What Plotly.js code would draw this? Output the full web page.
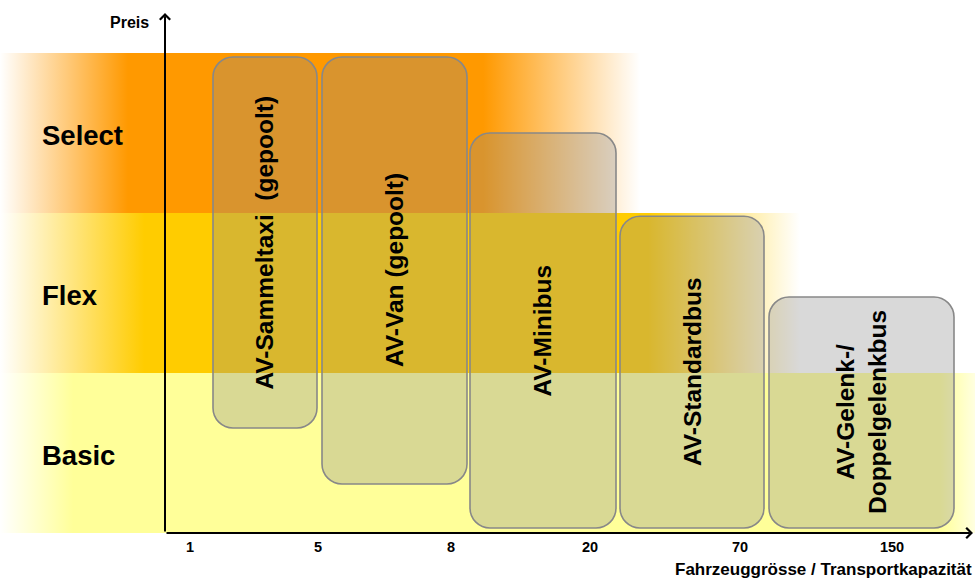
<!DOCTYPE html>
<html>
<head>
<meta charset="utf-8">
<script src="https://cdn.plot.ly/plotly-3.0.1.min.js"></script>
<style>html,body{margin:0;padding:0;background:#fff;}#chart{width:975px;height:579px;}</style>
</head>
<body>
<div id="chart"></div>
<script>
// ---- Data ----
const bandNames = ['Select', 'Flex', 'Basic'];
const bandLow = [2, 1, 0];
const bandHigh = [3, 2, 1];
const bandEnd = [4.75, 6.35, 8.1];

const vehicles = ['AV-Sammeltaxi\u00a0 (gepoolt)', 'AV-Van (gepoolt)', 'AV-Minibus', 'AV-Standardbus', 'AV-Gelenk-/<br>Doppelgelenkbus'];
const vehX0 = [0.48, 1.57, 3.05, 4.55, 6.04];
const vehX1 = [1.52, 3.02, 4.51, 5.99, 7.89];
const vehLow = [0.656, 0.306, 0.031, 0.031, 0.031];
const vehHigh = [2.975, 2.975, 2.5, 1.98, 1.475];

const capLabels = ['1', '5', '8', '20', '70', '150'];
const capPos = [0.25, 1.53, 2.86, 4.25, 5.75, 7.27];

const xTitle = 'Fahrzeuggrösse / Transportkapazität';
const yTitle = 'Preis';

// ---- Styles ----
const X_MIN = -1.65, X_MAX = 8.1, Y_MAX = 533 / 160;
const bandScales = [
  [[0, 'rgba(255,153,0,0)'], [0.2, 'rgba(255,153,0,1)'], [0.755, 'rgba(255,153,0,1)'], [1, 'rgba(255,153,0,0)']],
  [[0, 'rgba(255,204,0,0)'], [0.18, 'rgba(255,204,0,1)'], [0.81, 'rgba(255,204,0,1)'], [1, 'rgba(255,204,0,0)']],
  [[0, 'rgba(255,255,153,0)'], [0.075, 'rgba(255,255,153,1)'], [0.965, 'rgba(255,255,153,1)'], [1, 'rgba(255,255,153,0.3)']]
];
const FONT = 'Liberation Sans, Arial, sans-serif';

const traces = bandNames.map((n, i) => ({
  type: 'scatter', mode: 'none', fill: 'toself',
  x: [X_MIN, bandEnd[i], bandEnd[i], X_MIN, X_MIN],
  y: [bandLow[i], bandLow[i], bandHigh[i], bandHigh[i], bandLow[i]],
  fillgradient: { type: 'horizontal', colorscale: bandScales[i] },
  hoverinfo: 'skip', showlegend: false, name: n
}));

function roundRect(x0, x1, y0, y1) {
  const rx = 0.2, ry = 20 / 160, k = 0.5523;
  return `M${x0 + rx},${y1} L${x1 - rx},${y1} ` +
    `C${x1 - rx + k * rx},${y1} ${x1},${y1 - ry + k * ry} ${x1},${y1 - ry} ` +
    `L${x1},${y0 + ry} ` +
    `C${x1},${y0 + ry - k * ry} ${x1 - rx + k * rx},${y0} ${x1 - rx},${y0} ` +
    `L${x0 + rx},${y0} ` +
    `C${x0 + rx - k * rx},${y0} ${x0},${y0 + ry - k * ry} ${x0},${y0 + ry} ` +
    `L${x0},${y1 - ry} ` +
    `C${x0},${y1 - ry + k * ry} ${x0 + rx - k * rx},${y1} ${x0 + rx},${y1} Z`;
}

const shapes = vehicles.map((v, i) => ({
  type: 'path', xref: 'x', yref: 'y',
  path: roundRect(vehX0[i], vehX1[i], vehLow[i], vehHigh[i]),
  fillcolor: 'rgba(139,139,139,0.33)',
  line: { color: '#888888', width: 1.6 }
}));

const annotations = [];
vehicles.forEach((v, i) => {
  annotations.push({
    xref: 'x', yref: 'y', x: (vehX0[i] + vehX1[i]) / 2, y: (vehLow[i] + vehHigh[i]) / 2,
    text: v, showarrow: false, textangle: -90, xanchor: 'center', yanchor: 'middle',
    font: { family: FONT, size: 24.5, color: '#000', weight: 'bold' }
  });
});
bandNames.forEach((n, i) => {
  annotations.push({
    xref: 'x', yref: 'y', x: -1.25, y: (bandLow[i] + bandHigh[i]) / 2, yshift: -2,
    text: n, showarrow: false, xanchor: 'left', yanchor: 'middle',
    font: { family: FONT, size: 27.5, color: '#000', weight: 'bold' }
  });
});
// axis arrows
annotations.push({
  xref: 'x', yref: 'y', axref: 'x', ayref: 'y', x: 0, y: 3.25, ax: 0, ay: 0,
  text: '', showarrow: true, arrowhead: 4, arrowsize: 1, arrowwidth: 2, arrowcolor: '#000', standoff: 0, startstandoff: 0
});
annotations.push({
  xref: 'x', yref: 'y', axref: 'x', ayref: 'y', x: 8.08, y: 0, ax: 0, ay: 0,
  text: '', showarrow: true, arrowhead: 4, arrowsize: 1, arrowwidth: 2, arrowcolor: '#000', standoff: 0, startstandoff: 0
});
annotations.push({
  xref: 'x', yref: 'y', x: 0, y: (533 - 22) / 160, xshift: -14,
  text: yTitle, showarrow: false, xanchor: 'right', yanchor: 'middle',
  font: { family: FONT, size: 16, color: '#000', weight: 'bold' }
});
annotations.push({
  xref: 'paper', yref: 'paper', x: 0.999, y: 10 / 579,
  text: xTitle, showarrow: false, xanchor: 'right', yanchor: 'middle',
  font: { family: FONT, size: 17, color: '#000', weight: 'bold' }
});

const layout = {
  width: 975, height: 579,
  margin: { l: 0, r: 0, t: 0, b: 0 },
  paper_bgcolor: '#fff', plot_bgcolor: 'rgba(0,0,0,0)',
  showlegend: false,
  xaxis: {
    range: [X_MIN, X_MAX], showgrid: false, zeroline: false, showline: false,
    tickmode: 'array', tickvals: capPos, ticktext: capLabels, ticks: '',
    ticklabelstandoff: 3,
    tickfont: { family: FONT, size: 14.5, color: '#000', weight: 'bold' },
    fixedrange: true
  },
  yaxis: {
    domain: [46 / 579, 1], range: [0, Y_MAX], visible: false, fixedrange: true
  },
  shapes: shapes,
  annotations: annotations
};

Plotly.newPlot('chart', traces, layout, { staticPlot: true, displayModeBar: false });
</script>
</body>
</html>
